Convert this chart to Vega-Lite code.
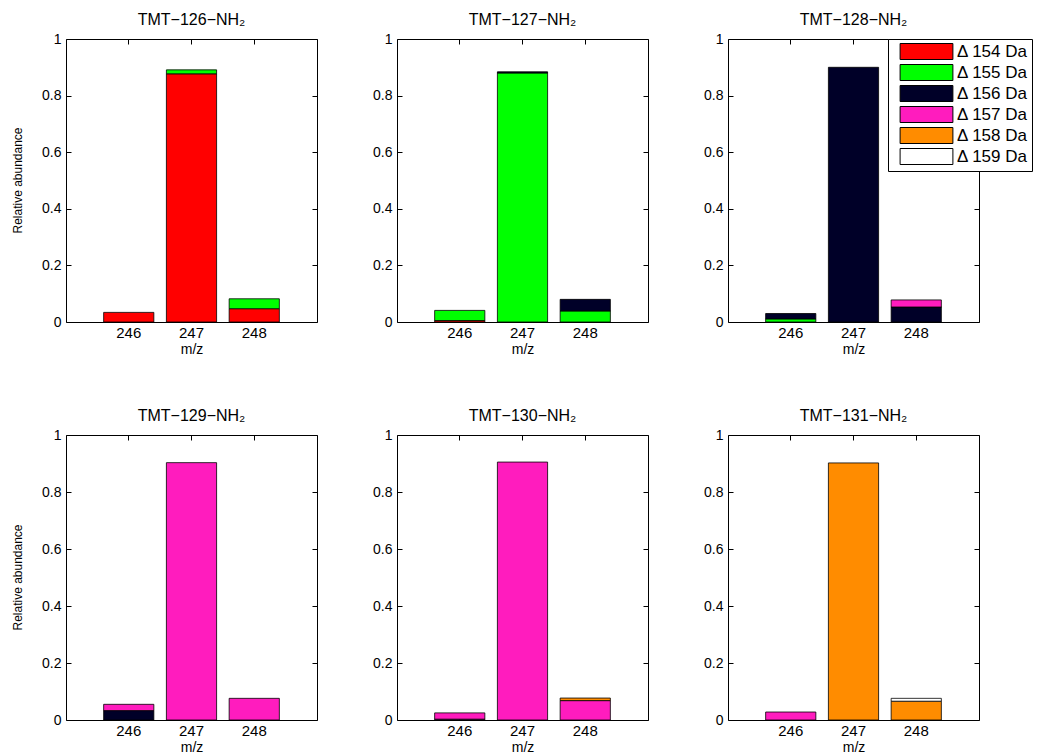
{
  "$schema": "https://vega.github.io/schema/vega-lite/v6.json",
  "padding": {"left": 11, "top": 12, "right": 0, "bottom": 0},
  "config": {
    "font": "Liberation Sans",
    "view": {"stroke": "black", "strokeWidth": 1},
    "axis": {"grid": false, "domain": false, "tickColor": "black", "labelColor": "black", "titleColor": "black", "labelFont": "Liberation Sans", "titleFont": "Liberation Sans"},
    "header": {"labelFont": "Liberation Sans", "labelColor": "black"}
  },
  "datasets": {
    "d": [
      {"row": 1, "ylab": "Relative abundance", "panel": "TMT−126−NH₂", "mz": 246, "delta": 154, "v": 0.034},
      {"row": 1, "ylab": "Relative abundance", "panel": "TMT−126−NH₂", "mz": 247, "delta": 154, "v": 0.877},
      {"row": 1, "ylab": "Relative abundance", "panel": "TMT−126−NH₂", "mz": 247, "delta": 155, "v": 0.014},
      {"row": 1, "ylab": "Relative abundance", "panel": "TMT−126−NH₂", "mz": 248, "delta": 154, "v": 0.047},
      {"row": 1, "ylab": "Relative abundance", "panel": "TMT−126−NH₂", "mz": 248, "delta": 155, "v": 0.035},
      {"row": 1, "ylab": "Relative abundance", "panel": "TMT−127−NH₂", "mz": 246, "delta": 154, "v": 0.005},
      {"row": 1, "ylab": "Relative abundance", "panel": "TMT−127−NH₂", "mz": 246, "delta": 155, "v": 0.036},
      {"row": 1, "ylab": "Relative abundance", "panel": "TMT−127−NH₂", "mz": 247, "delta": 155, "v": 0.880},
      {"row": 1, "ylab": "Relative abundance", "panel": "TMT−127−NH₂", "mz": 247, "delta": 156, "v": 0.004},
      {"row": 1, "ylab": "Relative abundance", "panel": "TMT−127−NH₂", "mz": 248, "delta": 155, "v": 0.039},
      {"row": 1, "ylab": "Relative abundance", "panel": "TMT−127−NH₂", "mz": 248, "delta": 156, "v": 0.041},
      {"row": 1, "ylab": "Relative abundance", "panel": "TMT−128−NH₂", "mz": 246, "delta": 155, "v": 0.011},
      {"row": 1, "ylab": "Relative abundance", "panel": "TMT−128−NH₂", "mz": 246, "delta": 156, "v": 0.019},
      {"row": 1, "ylab": "Relative abundance", "panel": "TMT−128−NH₂", "mz": 247, "delta": 156, "v": 0.900},
      {"row": 1, "ylab": "Relative abundance", "panel": "TMT−128−NH₂", "mz": 248, "delta": 156, "v": 0.053},
      {"row": 1, "ylab": "Relative abundance", "panel": "TMT−128−NH₂", "mz": 248, "delta": 157, "v": 0.025},
      {"row": 2, "ylab": "Relative abundance", "panel": "TMT−129−NH₂", "mz": 246, "delta": 156, "v": 0.033},
      {"row": 2, "ylab": "Relative abundance", "panel": "TMT−129−NH₂", "mz": 246, "delta": 157, "v": 0.022},
      {"row": 2, "ylab": "Relative abundance", "panel": "TMT−129−NH₂", "mz": 247, "delta": 157, "v": 0.903},
      {"row": 2, "ylab": "Relative abundance", "panel": "TMT−129−NH₂", "mz": 248, "delta": 157, "v": 0.076},
      {"row": 2, "ylab": "Relative abundance", "panel": "TMT−130−NH₂", "mz": 246, "delta": 156, "v": 0.003},
      {"row": 2, "ylab": "Relative abundance", "panel": "TMT−130−NH₂", "mz": 246, "delta": 157, "v": 0.022},
      {"row": 2, "ylab": "Relative abundance", "panel": "TMT−130−NH₂", "mz": 247, "delta": 157, "v": 0.905},
      {"row": 2, "ylab": "Relative abundance", "panel": "TMT−130−NH₂", "mz": 248, "delta": 157, "v": 0.068},
      {"row": 2, "ylab": "Relative abundance", "panel": "TMT−130−NH₂", "mz": 248, "delta": 158, "v": 0.009},
      {"row": 2, "ylab": "Relative abundance", "panel": "TMT−131−NH₂", "mz": 246, "delta": 157, "v": 0.028},
      {"row": 2, "ylab": "Relative abundance", "panel": "TMT−131−NH₂", "mz": 247, "delta": 158, "v": 0.902},
      {"row": 2, "ylab": "Relative abundance", "panel": "TMT−131−NH₂", "mz": 248, "delta": 158, "v": 0.066},
      {"row": 2, "ylab": "Relative abundance", "panel": "TMT−131−NH₂", "mz": 248, "delta": 159, "v": 0.010}
    ]
  },
  "spacing": 51,
  "vconcat": [
    {
      "data": {"name": "d"},
      "transform": [{"filter": "datum.row == 1"}],
      "facet": {
        "row": {"field": "ylab", "type": "nominal", "header": {"title": null, "labelAngle": 270, "labelOrient": "left", "labelFontSize": 12, "labelPadding": 4}},
        "column": {"field": "panel", "type": "nominal", "header": {"title": null, "labelFontSize": 16, "labelPadding": 3}}
      },
      "spacing": {"column": 54, "row": 0},
      "resolve": {"axis": {"x": "independent", "y": "independent"}},
      "spec": {
        "width": 251,
        "height": 283,
        "layer": [
          {
            "mark": {"type": "bar", "stroke": "black", "strokeWidth": 0.8},
            "encoding": {
              "x": {"field": "mz", "type": "ordinal", "scale": {"domain": [246, 247, 248], "paddingInner": 0.2, "paddingOuter": 0.6}, "axis": {"title": "m/z", "labelAngle": 0, "labelFontSize": 15, "titleFontSize": 14, "titleFontWeight": "normal", "tickSize": -5, "labelPadding": 8, "titlePadding": 2}},
              "y": {"field": "v", "type": "quantitative", "stack": "zero", "scale": {"domain": [0, 1], "nice": false}, "axis": {"title": null, "values": [0, 0.2, 0.4, 0.6, 0.8, 1], "format": "~g", "labelFontSize": 14, "tickSize": -5, "labelPadding": 10}},
              "color": {
                "field": "delta", "type": "ordinal",
                "scale": {"domain": [154, 155, 156, 157, 158, 159], "range": ["#FF0000", "#00FF00", "#000028", "#FF1CBE", "#FF8C00", "#FFFFFF"]},
                "legend": {
                  "title": null, "orient": "none", "legendX": 822, "legendY": 0, "direction": "vertical",
                  "labelExpr": "'Δ ' + datum.label + ' Da'",
                  "labelFontSize": 17, "labelColor": "black",
                  "symbolType": "M-3.3,-1H3.3V1H-3.3Z", "symbolSize": 256,
                  "symbolStrokeColor": "black", "symbolStrokeWidth": 1, "symbolOpacity": 1,
                  "strokeColor": "black", "fillColor": "white", "padding": 4,
                  "symbolOffset": 26, "labelOffset": 22, "rowPadding": 0
                }
              },
              "order": {"field": "delta", "type": "quantitative", "sort": "ascending"}
            }
          },
          {
            "mark": {"type": "point", "opacity": 0},
            "encoding": {
              "x": {"field": "mz", "type": "ordinal", "axis": {"orient": "top", "labels": false, "title": null, "tickSize": -5}},
              "y": {"field": "v", "type": "quantitative", "axis": {"orient": "right", "labels": false, "title": null, "values": [0, 0.2, 0.4, 0.6, 0.8, 1], "tickSize": -5}}
            }
          }
        ],
        "resolve": {"axis": {"x": "independent", "y": "independent"}}
      }
    },
    {
      "data": {"name": "d"},
      "transform": [{"filter": "datum.row == 2"}],
      "facet": {
        "row": {"field": "ylab", "type": "nominal", "header": {"title": null, "labelAngle": 270, "labelOrient": "left", "labelFontSize": 12, "labelPadding": 4}},
        "column": {"field": "panel", "type": "nominal", "header": {"title": null, "labelFontSize": 16, "labelPadding": 3}}
      },
      "spacing": {"column": 54, "row": 0},
      "resolve": {"axis": {"x": "independent", "y": "independent"}},
      "spec": {
        "width": 251,
        "height": 285,
        "layer": [
          {
            "mark": {"type": "bar", "stroke": "black", "strokeWidth": 0.8},
            "encoding": {
              "x": {"field": "mz", "type": "ordinal", "scale": {"domain": [246, 247, 248], "paddingInner": 0.2, "paddingOuter": 0.6}, "axis": {"title": "m/z", "labelAngle": 0, "labelFontSize": 15, "titleFontSize": 14, "titleFontWeight": "normal", "tickSize": -5, "labelPadding": 8, "titlePadding": 2}},
              "y": {"field": "v", "type": "quantitative", "stack": "zero", "scale": {"domain": [0, 1], "nice": false}, "axis": {"title": null, "values": [0, 0.2, 0.4, 0.6, 0.8, 1], "format": "~g", "labelFontSize": 14, "tickSize": -5, "labelPadding": 10}},
              "color": {"field": "delta", "type": "ordinal"},
              "order": {"field": "delta", "type": "quantitative", "sort": "ascending"}
            }
          },
          {
            "mark": {"type": "point", "opacity": 0},
            "encoding": {
              "x": {"field": "mz", "type": "ordinal", "axis": {"orient": "top", "labels": false, "title": null, "tickSize": -5}},
              "y": {"field": "v", "type": "quantitative", "axis": {"orient": "right", "labels": false, "title": null, "values": [0, 0.2, 0.4, 0.6, 0.8, 1], "tickSize": -5}}
            }
          }
        ],
        "resolve": {"axis": {"x": "independent", "y": "independent"}}
      }
    }
  ]
}
